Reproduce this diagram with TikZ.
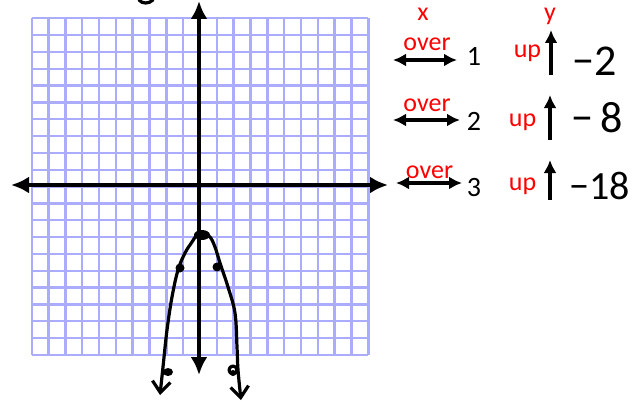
\documentclass[tikz,border=0pt]{standalone}
\usepackage{fontspec}
\setmainfont{Carlito}
\usetikzlibrary{arrows.meta}
\definecolor{gridblue}{RGB}{172,172,253}
\begin{document}
\begin{tikzpicture}[x=1pt,y=-1pt,
    gridln/.style={gridblue,line width=2.4pt},
    ax/.style={line width=4.5pt,{Latex[length=18pt,width=17pt]}-{Latex[length=18pt,width=17pt]}},
    dbl/.style={line width=3.8pt,{Latex[length=13pt,width=13pt]}-{Latex[length=13pt,width=13pt]}},
    uparr/.style={line width=3.8pt,-{Latex[length=13pt,width=13pt]}},
    hand/.style={line width=3.2pt,line cap=round,line join=round},
    dot/.style={fill=black},
    redtxt/.style={red,font=\fontsize{26}{28}\selectfont,anchor=base},
    numtxt/.style={font=\fontsize{28}{30}\selectfont,anchor=base},
    hw/.style={font=\fontsize{44}{46}\selectfont,anchor=base}]
  \useasboundingbox (0,0) rectangle (639,404);
  % the graph paper
  \foreach \i in {0,...,20}{
    \draw[gridln] ({31.7+16.83*\i},18.3) -- ({31.7+16.83*\i},355);
    \draw[gridln] (31.7,{18.3+16.83*\i}) -- (368.3,{18.3+16.83*\i});
  }
  % the axes
  \coordinate (xl) at (11,185);
  \coordinate (xr) at (388,185);
  \coordinate (yt) at (199,1);
  \coordinate (yb) at (199,375);
  \draw[ax] (xl) -- (xr);
  \draw[ax] (yb) -- (yt);
  % the sketched parabola
  \draw[hand,{Straight Barb[length=11pt,width=18pt]}-{Straight Barb[length=11pt,width=18pt]}]
    plot[smooth,tension=0.6] coordinates {(160,395) (163,367) (167,330) (172,297) (178,270)
      (185,253) (192,242) (197,235) (203,233) (210,237) (215,247) (220,263) (228,287)
      (235,313) (237,347) (238,370) (241,400)};
  \fill[dot] (202,235) ellipse (8 and 5);
  \fill[dot] (180,268) circle (4.5);
  \fill[dot] (217,267) circle (4.5);
  \fill[dot] (168,372) ellipse (5 and 4);
  \draw[hand] (233,370) circle (4);
  \fill[dot] (233,373) circle (3);
  \draw[hand] (139,0) .. controls (142,4) and (149,4) .. (153,0);
  % the x column
  \node[redtxt] (xh) at (423,20.7) {x};
  \node[redtxt] (ov1) at (427,50.7) {over};
  \node[redtxt] (ov2) at (427,111.7) {over};
  \node[redtxt] (ov3) at (429.5,178) {over};
  \coordinate (a1l) at (393,60);  \coordinate (a1r) at (457,60);
  \coordinate (a2l) at (393,120); \coordinate (a2r) at (460,120);
  \coordinate (a3l) at (396,183); \coordinate (a3r) at (462,183);
  \draw[dbl] (a1l) -- (a1r);
  \draw[dbl] (a2l) -- (a2r);
  \draw[dbl] (a3l) -- (a3r);
  \node[numtxt] (n1) at (474,66) {1};
  \node[numtxt] (n2) at (474,130) {2};
  \node[numtxt] (n3) at (474,196) {3};
  % the y column
  \node[redtxt] (yh) at (550,20.7) {y};
  \node[redtxt] (up1) at (527.5,58) {up};
  \node[redtxt] (up2) at (522.6,126) {up};
  \node[redtxt] (up3) at (522.6,190) {up};
  \coordinate (u1b) at (551,75);  \coordinate (u1t) at (551,30);
  \coordinate (u2b) at (550,140); \coordinate (u2t) at (550,95);
  \coordinate (u3b) at (550,200); \coordinate (u3t) at (550,160);
  \draw[uparr] (u1b) -- (u1t);
  \draw[uparr] (u2b) -- (u2t);
  \draw[uparr] (u3b) -- (u3t);
  \node[hw] (d1) at (595,75) {−2};
  \node[hw] (d2) at (597,132) {−\,8};
  \node[hw,font=\fontsize{40}{42}\selectfont] (d3) at (600,199) {−18};
\end{tikzpicture}
\end{document}
